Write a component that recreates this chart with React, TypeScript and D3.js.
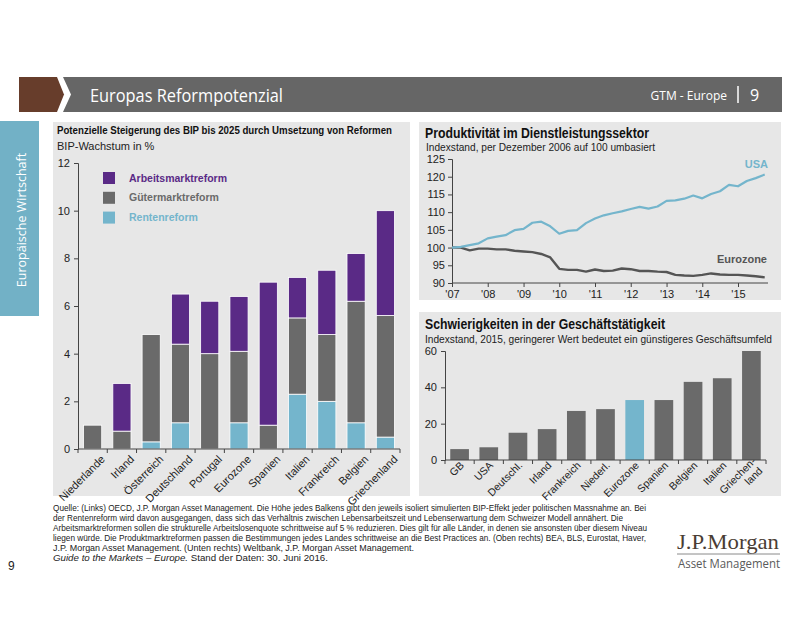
import React, { useEffect, useRef } from 'react';
import * as d3 from 'd3';

// Linke Grafik: BIP-Effekt der Reformen (in %)
const reformCountries = ['Niederlande', 'Irland', 'Österreich', 'Deutschland', 'Portugal', 'Eurozone', 'Spanien', 'Italien', 'Frankreich', 'Belgien', 'Griechenland'];
const rentenreform = [0, 0, 0.3, 1.1, 0, 1.1, 0, 2.3, 2.0, 1.1, 0.5];
const guetermarktreform = [1.0, 0.75, 4.5, 3.3, 4.0, 3.0, 1.0, 3.2, 2.8, 5.1, 5.1];
const arbeitsmarktreform = [0, 2.0, 0, 2.1, 2.2, 2.3, 6.0, 1.7, 2.7, 2.0, 4.4];
const reformTicks = [0, 2, 4, 6, 8, 10, 12];

// Oben rechts: Produktivität, quartalsweise ab Q1 2007
const usaIndex = [100.0, 100.2, 100.7, 101.2, 102.6, 103.1, 103.5, 104.9, 105.3, 107.0, 107.3, 106.0, 103.9, 104.7, 104.9, 106.9, 108.2, 109.1, 109.7, 110.2, 110.9, 111.5, 111.0, 111.6, 113.2, 113.3, 113.8, 114.7, 113.9, 115.1, 115.9, 117.7, 117.3, 118.8, 119.6, 120.6];
const eurozoneIndex = [100.0, 100.0, 99.2, 99.7, 99.7, 99.5, 99.5, 99.1, 98.9, 98.7, 98.2, 97.2, 94.0, 93.7, 93.7, 93.2, 93.8, 93.4, 93.5, 94.1, 93.9, 93.4, 93.4, 93.2, 93.1, 92.3, 92.1, 92.0, 92.3, 92.7, 92.4, 92.3, 92.3, 92.1, 91.9, 91.6];
const productivityTicks = [90, 95, 100, 105, 110, 115, 120, 125];

// Unten rechts: Schwierigkeiten in der Geschäftstätigkeit
const businessCountries = ['GB', 'USA', 'Deutschl.', 'Irland', 'Frankreich', 'Niederl.', 'Eurozone', 'Spanien', 'Belgien', 'Italien', 'Griechen-|land'];
const businessValues = [6, 7, 15, 17, 27, 28, 33, 33, 43, 45, 60];
const businessTicks = [0, 20, 40, 60];

const footerLines = [
  'Quelle: (Links) OECD, J.P. Morgan Asset Management. Die Höhe jedes Balkens gibt den jeweils isoliert simulierten BIP-Effekt jeder politischen Massnahme an. Bei',
  'der Rentenreform wird davon ausgegangen, dass sich das Verhältnis zwischen Lebensarbeitszeit und Lebenserwartung dem Schweizer Modell annähert. Die',
  'Arbeitsmarktreformen sollen die strukturelle Arbeitslosenquote schrittweise auf 5 % reduzieren. Dies gilt für alle Länder, in denen sie ansonsten über diesem Niveau',
  'liegen würde. Die Produktmarktreformen passen die Bestimmungen jedes Landes schrittweise an die Best Practices an. (Oben rechts) BEA, BLS, Eurostat, Haver,',
  'J.P. Morgan Asset Management. (Unten rechts) Weltbank, J.P. Morgan Asset Management.',
];
const footerWidths = [593, 570, 594, 593, 361];

const PURPLE = '#5a2a86';
const GRAY = '#6a6a6a';
const BLUE = '#74b5cc';
const PANEL = '#e7e7e7';
const SANS = '"Liberation Sans", Arial, sans-serif';
const HEAD = '"Open Sans", sans-serif';

const App: React.FC = () => {
  const svgRef = useRef<SVGSVGElement>(null);

  useEffect(() => {
    if (!svgRef.current) return;
    const svg = d3.select(svgRef.current);
    svg.selectAll('*').remove();

    svg.append('rect').attr('width', 800).attr('height', 618).attr('fill', '#fff');

    // Kopfzeile
    svg.append('path').attr('d', 'M19,77 L57,77 L64,94.5 L57,112 L19,112 Z').attr('fill', '#673d2b');
    svg.append('path').attr('d', 'M63,77 L782,77 L782,112 L63,112 L71,94.5 Z').attr('fill', '#666666');
    svg.append('text').attr('x', 90).attr('y', 102).attr('fill', '#fff')
      .style('font-family', HEAD).style('font-size', '18px')
      .attr('textLength', 193).attr('lengthAdjust', 'spacingAndGlyphs')
      .text('Europas Reformpotenzial');
    svg.append('text').attr('x', 727).attr('y', 100).attr('text-anchor', 'end').attr('fill', '#fff')
      .style('font-family', HEAD).style('font-size', '12px').text('GTM - Europe');
    svg.append('line').attr('x1', 738).attr('x2', 738).attr('y1', 86).attr('y2', 103)
      .attr('stroke', '#fff').attr('stroke-width', 1.5);
    svg.append('text').attr('x', 750).attr('y', 101).attr('fill', '#fff')
      .style('font-family', HEAD).style('font-size', '16px').text('9');

    // Seitenleiste
    svg.append('rect').attr('x', 0).attr('y', 121).attr('width', 39).attr('height', 195).attr('fill', '#72b1c6');
    svg.append('text').attr('transform', 'translate(26,220) rotate(-90)').attr('text-anchor', 'middle')
      .attr('fill', '#fff').style('font-family', HEAD).style('font-size', '12.5px')
      .text('Europäische Wirtschaft');

    // Panels
    svg.append('rect').attr('x', 53).attr('y', 122).attr('width', 357).attr('height', 374).attr('fill', PANEL);
    svg.append('rect').attr('x', 419).attr('y', 122).attr('width', 362).attr('height', 178).attr('fill', PANEL);
    svg.append('rect').attr('x', 419).attr('y', 312).attr('width', 362).attr('height', 184).attr('fill', PANEL);

    const styleAxis = (g: d3.Selection<SVGGElement, unknown, null, undefined>, size = '10.5px') => {
      g.select('.domain').attr('stroke', '#444');
      g.selectAll('.tick line').attr('stroke', '#444');
      g.selectAll('text').style('font-family', SANS).style('font-size', size).attr('fill', '#222');
    };

    // ---------- Linke Grafik ----------
    const left = svg.append('g');
    left.append('text').attr('x', 57).attr('y', 134).style('font-family', SANS).style('font-weight', 'bold')
      .style('font-size', '10px').attr('fill', '#111')
      .attr('textLength', 335).attr('lengthAdjust', 'spacingAndGlyphs')
      .text('Potenzielle Steigerung des BIP bis 2025 durch Umsetzung von Reformen');
    left.append('text').attr('x', 57).attr('y', 150).style('font-family', SANS)
      .style('font-size', '11px').attr('fill', '#222').text('BIP-Wachstum in %');

    const xL = d3.scaleBand<string>().domain(reformCountries).range([78, 400]).paddingInner(0.38).paddingOuter(0.19);
    const yL = d3.scaleLinear().domain([0, 12]).range([449, 163]);

    const stackRows = reformCountries.map((c, i) => ({
      country: c,
      renten: rentenreform[i],
      gueter: guetermarktreform[i],
      arbeit: arbeitsmarktreform[i],
    }));
    const keys = ['renten', 'gueter', 'arbeit'];
    const colors: Record<string, string> = { renten: BLUE, gueter: GRAY, arbeit: PURPLE };
    const series = d3.stack<any>().keys(keys)(stackRows);

    series.forEach(s => {
      left.append('g').selectAll('rect')
        .data(s.filter(d => d[1] - d[0] > 0))
        .enter()
        .append('rect')
        .attr('x', d => xL(d.data.country) || 0)
        .attr('width', xL.bandwidth())
        .attr('y', d => yL(d[1]))
        .attr('height', d => yL(d[0]) - yL(d[1]))
        .attr('fill', colors[s.key])
        .attr('stroke', '#fff')
        .attr('stroke-width', 0.8);
    });

    const yAxisL = left.append('g').attr('transform', 'translate(78,0)')
      .call(d3.axisLeft(yL).tickValues(reformTicks).tickSize(4).tickPadding(4));
    styleAxis(yAxisL, '11px');

    const xAxisL = left.append('g').attr('transform', 'translate(0,449)')
      .call(d3.axisBottom(xL).tickSize(0).tickPadding(6));
    styleAxis(xAxisL, '11px');
    xAxisL.select('.domain').attr('d', 'M78,0H400');
    xAxisL.selectAll('.tick text')
      .attr('text-anchor', 'end')
      .attr('transform', 'translate(4,2) rotate(-45)')
      .attr('dy', '0.6em');
    // Trennstriche zwischen den Kategorien
    const stepL = xL.step();
    xAxisL.selectAll('.sep').data(d3.range(reformCountries.length + 1)).enter().append('line')
      .attr('x1', i => 78 + i * stepL).attr('x2', i => 78 + i * stepL)
      .attr('y1', 0).attr('y2', 4).attr('stroke', '#444');

    // Legende
    const legendItems = [
      { label: 'Arbeitsmarktreform', color: PURPLE },
      { label: 'Gütermarktreform', color: GRAY },
      { label: 'Rentenreform', color: BLUE },
    ];
    const legend = left.append('g');
    legendItems.forEach((item, i) => {
      const y = 172 + i * 19.8;
      legend.append('rect').attr('x', 103).attr('y', y).attr('width', 12).attr('height', 12).attr('fill', item.color);
      legend.append('text').attr('x', 129).attr('y', y + 9.5).attr('fill', item.color)
        .style('font-family', SANS).style('font-weight', 'bold').style('font-size', '10.5px').text(item.label);
    });

    // ---------- Oben rechts: Liniengrafik ----------
    const tr = svg.append('g');
    tr.append('text').attr('x', 425).attr('y', 138).style('font-family', SANS).style('font-weight', 'bold')
      .style('font-size', '14px').attr('fill', '#111')
      .attr('textLength', 224).attr('lengthAdjust', 'spacingAndGlyphs')
      .text('Produktivität im Dienstleistungssektor');
    tr.append('text').attr('x', 426).attr('y', 151).style('font-family', SANS)
      .style('font-size', '10.5px').attr('fill', '#222')
      .attr('textLength', 229).attr('lengthAdjust', 'spacingAndGlyphs')
      .text('Indexstand, per Dezember 2006 auf 100 umbasiert');

    const quarters = usaIndex.map((_, i) => new Date(2007, i * 3, 1));
    const xT = d3.scaleTime().domain([new Date(2007, 0, 1), new Date(2015, 0, 1)]).range([452, 738]);
    const yT = d3.scaleLinear().domain([90, 125]).range([283, 159]);

    const yAxisT = tr.append('g').attr('transform', 'translate(452,0)')
      .call(d3.axisLeft(yT).tickValues(productivityTicks).tickSize(4).tickPadding(3));
    styleAxis(yAxisT, '11px');
    const yearTicks = d3.range(2007, 2016).map(y => new Date(y, 0, 1));
    const xAxisT = tr.append('g').attr('transform', 'translate(0,283)')
      .call(d3.axisBottom(xT).tickValues(yearTicks).tickFormat(d3.timeFormat("'%y") as any).tickSize(4).tickPadding(3));
    styleAxis(xAxisT, '11px');
    xAxisT.select('.domain').attr('d', 'M452,0H768');

    const line = d3.line<number>()
      .x((_, i) => xT(quarters[i]))
      .y(d => yT(d));
    tr.append('path').attr('d', line(eurozoneIndex) || '').attr('fill', 'none')
      .attr('stroke', '#555').attr('stroke-width', 2.4).attr('stroke-linejoin', 'round');
    tr.append('path').attr('d', line(usaIndex) || '').attr('fill', 'none')
      .attr('stroke', BLUE).attr('stroke-width', 2.2).attr('stroke-linejoin', 'round');
    tr.append('text').attr('x', 768).attr('y', 168).attr('text-anchor', 'end').attr('fill', BLUE)
      .style('font-family', SANS).style('font-weight', 'bold').style('font-size', '11px').text('USA');
    tr.append('text').attr('x', 767).attr('y', 263).attr('text-anchor', 'end').attr('fill', '#555')
      .style('font-family', SANS).style('font-weight', 'bold').style('font-size', '11px').text('Eurozone');

    // ---------- Unten rechts: Balken ----------
    const br = svg.append('g');
    br.append('text').attr('x', 425).attr('y', 329).style('font-family', SANS).style('font-weight', 'bold')
      .style('font-size', '14px').attr('fill', '#111')
      .attr('textLength', 240).attr('lengthAdjust', 'spacingAndGlyphs')
      .text('Schwierigkeiten in der Geschäftstätigkeit');
    br.append('text').attr('x', 425).attr('y', 343).style('font-family', SANS)
      .style('font-size', '10.5px').attr('fill', '#222')
      .attr('textLength', 347).attr('lengthAdjust', 'spacingAndGlyphs')
      .text('Indexstand, 2015, geringerer Wert bedeutet ein günstigeres Geschäftsumfeld');

    const xB = d3.scaleBand<string>().domain(businessCountries).range([445, 766]).paddingInner(0.36).paddingOuter(0.18);
    const yB = d3.scaleLinear().domain([0, 60]).range([460, 351]);

    br.append('g').selectAll('rect')
      .data(businessCountries)
      .enter()
      .append('rect')
      .attr('x', d => xB(d) || 0)
      .attr('width', xB.bandwidth())
      .attr('y', (_, i) => yB(businessValues[i]))
      .attr('height', (_, i) => yB(0) - yB(businessValues[i]))
      .attr('fill', d => (d === 'Eurozone' ? BLUE : GRAY));

    const yAxisB = br.append('g').attr('transform', 'translate(445,0)')
      .call(d3.axisLeft(yB).tickValues(businessTicks).tickSize(4).tickPadding(4));
    styleAxis(yAxisB, '11px');
    const xAxisB = br.append('g').attr('transform', 'translate(0,460)')
      .call(d3.axisBottom(xB).tickSize(0).tickFormat(() => ''));
    styleAxis(xAxisB);
    xAxisB.select('.domain').attr('d', 'M445,0H766');
    const stepB = xB.step();
    xAxisB.selectAll('.sep').data(d3.range(businessCountries.length + 1)).enter().append('line')
      .attr('x1', i => 445 + i * stepB).attr('x2', i => 445 + i * stepB)
      .attr('y1', 0).attr('y2', 4).attr('stroke', '#444');
    businessCountries.forEach(c => {
      const parts = c.split('|');
      const cx = (xB(c) || 0) + xB.bandwidth() / 2;
      const t = xAxisB.append('text')
        .attr('transform', `translate(${cx + 5},${parts.length > 1 ? 2 : 6}) rotate(-45)`)
        .attr('text-anchor', 'end')
        .attr('dy', '0.6em')
        .attr('fill', '#222')
        .style('font-family', SANS).style('font-size', '10.5px');
      parts.forEach((p, k) => {
        t.append('tspan').attr('x', k === 0 ? 0 : -2).attr('dy', k === 0 ? 0 : '1.1em').text(p);
      });
    });

    // ---------- Fusszeile ----------
    const foot = svg.append('g').style('font-family', '"Liberation Sans Narrow", "Liberation Sans", Arial, sans-serif')
      .style('font-size', '8.6px').attr('fill', '#222');
    footerLines.forEach((l, i) => {
      foot.append('text').attr('x', 53).attr('y', 511 + i * 9.9)
        .attr('textLength', footerWidths[i]).attr('lengthAdjust', 'spacingAndGlyphs').text(l);
    });
    const last = foot.append('text').attr('x', 53).attr('y', 511 + 5 * 9.9)
      .attr('textLength', 275).attr('lengthAdjust', 'spacingAndGlyphs');
    last.append('tspan').style('font-style', 'italic').text('Guide to the Markets – Europe.');
    last.append('tspan').text(' Stand der Daten: 30. Juni 2016.');

    svg.append('text').attr('x', 8).attr('y', 570).style('font-family', SANS).style('font-size', '12px')
      .attr('fill', '#222').text('9');

    // Logo
    svg.append('text').attr('x', 677).attr('y', 549).attr('fill', '#4a3d34')
      .style('font-family', '"Liberation Serif", "DejaVu Serif", serif').style('font-size', '22px')
      .attr('textLength', 102).attr('lengthAdjust', 'spacingAndGlyphs').text('J.P.Morgan');
    svg.append('line').attr('x1', 677).attr('x2', 780).attr('y1', 554).attr('y2', 554)
      .attr('stroke', '#8a8a8a').attr('stroke-width', 1);
    svg.append('text').attr('x', 678).attr('y', 568).attr('fill', '#5a5a5a')
      .style('font-family', HEAD).style('font-size', '12px')
      .attr('textLength', 102).attr('lengthAdjust', 'spacingAndGlyphs').text('Asset Management');
  }, []);

  return (
    <svg
      ref={svgRef}
      width={800}
      height={618}
      style={{ position: 'absolute', left: 0, top: 0, display: 'block' }}
    />
  );
};

export default App;
